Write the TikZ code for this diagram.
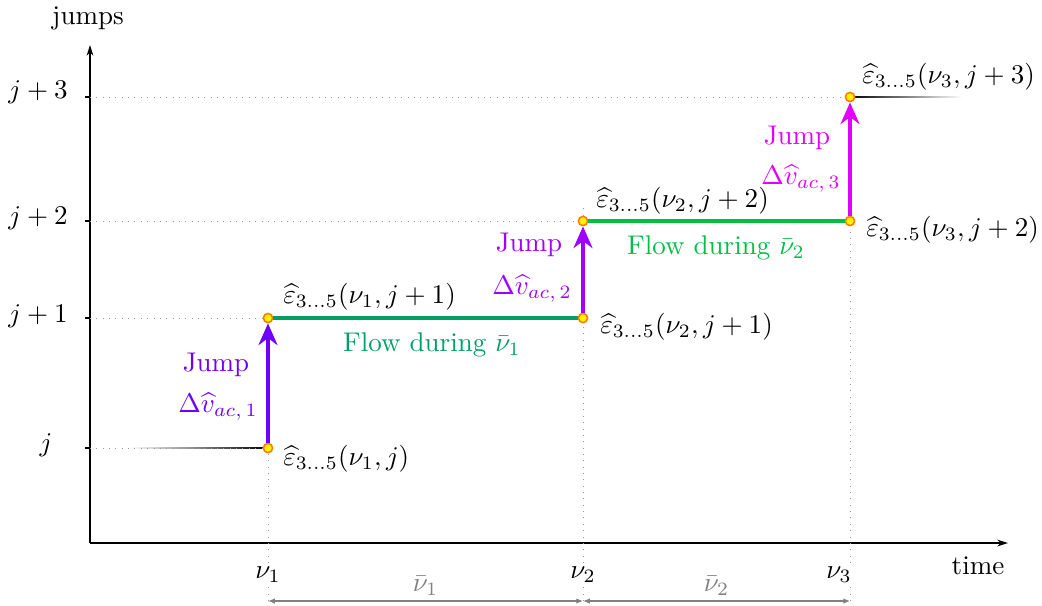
\documentclass[tikz,border=0pt]{standalone}
\usetikzlibrary{arrows.meta,positioning}

\definecolor{jumpa}{RGB}{110,0,255}
\definecolor{jumpb}{RGB}{160,0,255}
\definecolor{jumpc}{RGB}{225,0,255}
\definecolor{flowa}{RGB}{0,160,100}
\definecolor{flowb}{RGB}{0,190,70}

\tikzset{
  pt/.style={circle, fill=yellow, draw=orange, line width=0.6pt, inner sep=0pt, minimum size=3.4pt},
  guide/.style={dotted, gray!80, line width=0.35pt},
  jumparrow/.style={line width=1.5pt, -{Stealth[length=8pt,width=7pt]}},
  flowline/.style={line width=1.5pt},
  axisline/.style={line width=0.5pt, -{Stealth[length=4pt,width=2.5pt]}},
  dimline/.style={gray, line width=0.4pt, {Latex[length=2.5pt,width=2pt]}-{Latex[length=2.5pt,width=2pt]}},
  lbl/.style={inner sep=1pt},
}

\begin{document}
\begin{tikzpicture}[x=0.013cm, y=-0.013cm]
  \useasboundingbox (0,0) rectangle (1042,605);

  % Assen
  \coordinate (O) at (90,543);
  \coordinate (ytop) at (90,45);
  \coordinate (xend) at (1008,543);
  \draw[axisline] (O) -- (ytop);
  \draw[axisline] (O) -- (xend);
  \node (ylab) at (88,18) {jumps};
  \node (xlab) at (978,566) {time};

  % Sprongniveaus op de y-as
  \coordinate (yj) at (90,448);
  \coordinate (yj1) at (90,318);
  \coordinate (yj2) at (90,221);
  \coordinate (yj3) at (90,97);
  \foreach \lev in {yj,yj1,yj2,yj3}
    \draw[line width=0.5pt] (\lev) -- ++(-5,0);
  \node (lj) at (46,445) {$j$};
  \node (lj1) at (38,316) {$j+1$};
  \node (lj2) at (38,218) {$j+2$};
  \node (lj3) at (38,92) {$j+3$};

  % Uitvagende lijnen aan begin en eind
  \shade[left color=white, right color=black] (130,447.4) rectangle (268,448.6);
  \shade[left color=black, right color=white] (850,96.4) rectangle (962,97.6);

  % Knooppunten
  \node[pt] (p0) at (268,448) {};
  \node[pt] (p1) at (268,318) {};
  \node[pt] (p2) at (583,318) {};
  \node[pt] (p3) at (583,221) {};
  \node[pt] (p4) at (850,221) {};
  \node[pt] (p5) at (850,97) {};

  % Hulplijnen (stippel)
  \coordinate (d1) at (268,601);
  \coordinate (d2) at (583,601);
  \coordinate (d3) at (850,601);
  \coordinate (top2) at (583,203);
  \draw[guide] (yj) -- (p0);
  \draw[guide] (yj1) -- (p1);
  \draw[guide] (yj2) -- (p3);
  \draw[guide] (yj3) -- (p5);
  \draw[guide] (d1) -- (p0);
  \draw[guide] (d2) -- (p2);
  \draw[guide] (p3) -- (top2);
  \draw[guide] (d3) -- (p4);

  % Tijdstippen
  \node[fill=white, inner sep=1pt] (n1) at (268,575) {$\nu_1$};
  \node[fill=white, inner sep=1pt] (n2) at (583,575) {$\nu_2$};
  \node[fill=white, inner sep=1pt] (n3) at (839,575) {$\nu_3$};

  % Intervallen
  \draw[dimline] (d1) -- (d2) node[midway, above, inner sep=2pt, gray] {$\bar{\nu}_1$};
  \draw[dimline] (d2) -- (d3) node[midway, above, inner sep=2pt, gray] {$\bar{\nu}_2$};

  % Sprongen
  \draw[jumparrow, jumpa] (p0) -- (p1);
  \draw[jumparrow, jumpb] (p2) -- (p3);
  \draw[jumparrow, jumpc] (p4) -- (p5);
  \node[lbl, jumpa] (jl1) at (216,365) {Jump};
  \node[lbl, jumpa] (jd1) at (218,407) {$\Delta\widehat{v}_{ac,\,1}$};
  \node[lbl, jumpb] (jl2) at (529,245) {Jump};
  \node[lbl, jumpb] (jd2) at (532,289) {$\Delta\widehat{v}_{ac,\,2}$};
  \node[lbl, jumpc] (jl3) at (797,138) {Jump};
  \node[lbl, jumpc] (jd3) at (801,179) {$\Delta\widehat{v}_{ac,\,3}$};

  % Flow
  \draw[flowline, flowa] (p1) -- (p2);
  \draw[flowline, flowb] (p3) -- (p4);
  \node[lbl, flowa] (fl1) at (432,345) {Flow during $\bar{\nu}_1$};
  \node[lbl, flowb] (fl2) at (716,248) {Flow during $\bar{\nu}_2$};

  % Toestanden
  \node[lbl, anchor=west] (e0) at (280,459) {$\widehat{\varepsilon}_{3\ldots5}(\nu_1,j)$};
  \node[lbl, anchor=west] (e1) at (280,297) {$\widehat{\varepsilon}_{3\ldots5}(\nu_1,j+1)$};
  \node[lbl, anchor=west] (e2) at (597,327) {$\widehat{\varepsilon}_{3\ldots5}(\nu_2,j+1)$};
  \node[lbl, anchor=west] (e3) at (593,201) {$\widehat{\varepsilon}_{3\ldots5}(\nu_2,j+2)$};
  \node[lbl, anchor=west] (e4) at (863,230) {$\widehat{\varepsilon}_{3\ldots5}(\nu_3,j+2)$};
  \node[lbl, anchor=west] (e5) at (859,77) {$\widehat{\varepsilon}_{3\ldots5}(\nu_3,j+3)$};
\end{tikzpicture}
\end{document}
